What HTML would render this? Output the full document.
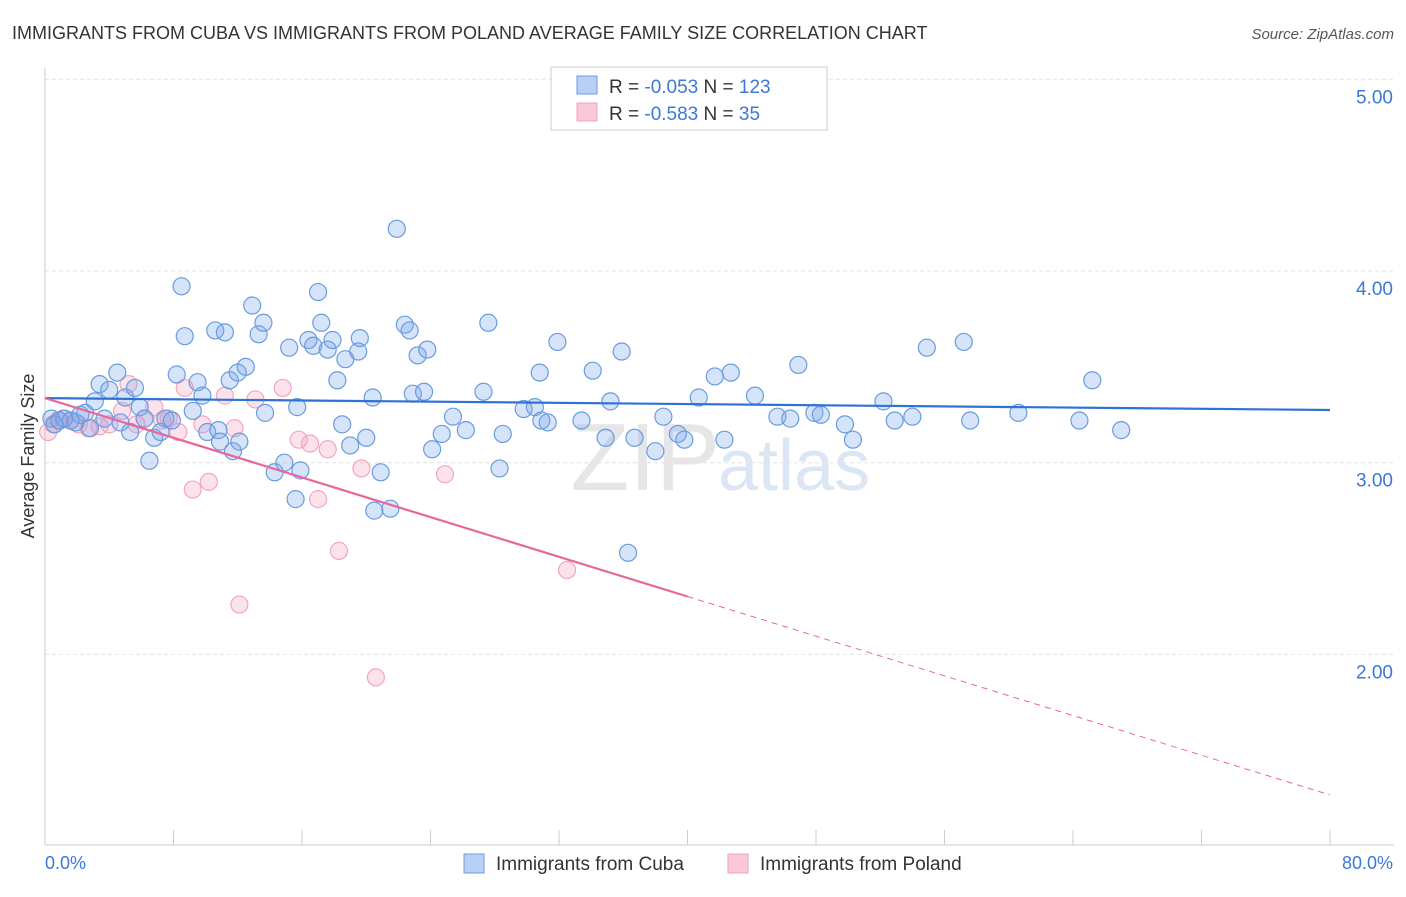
<!DOCTYPE html>
<html><head><meta charset="utf-8"><style>
body{margin:0;background:#fff;font-family:"Liberation Sans",sans-serif;}
svg text{font-family:"Liberation Sans",sans-serif;}
</style></head><body>
<svg id="chart" width="1406" height="892" viewBox="0 0 1406 892">
<text x="12" y="39" font-size="18" fill="#333">IMMIGRANTS FROM CUBA VS IMMIGRANTS FROM POLAND AVERAGE FAMILY SIZE CORRELATION CHART</text>
<text x="1394" y="39" font-size="15" fill="#555" text-anchor="end" font-style="italic">Source: ZipAtlas.com</text>
<text x="720" y="490" font-size="96" fill="#e6e6e6" text-anchor="end" font-family="Liberation Serif">ZIP</text>
<text x="718" y="490" font-size="72" fill="#dbe6f5">atlas</text>
<g id="grid"></g>
<g id="axes"></g>
<g id="pts"></g>
<g id="trend"></g>
<text transform="translate(34,456) rotate(-90)" font-size="18" fill="#333" text-anchor="middle">Average Family Size</text>
<text x="45" y="869" font-size="18" fill="#3b78d8">0.0%</text>
<text x="1393" y="869" font-size="18" fill="#3b78d8" text-anchor="end">80.0%</text>
<g>
<rect x="551" y="67" width="276" height="63" fill="#fff" stroke="#ccc"/>
<rect x="577" y="76" width="20" height="18" fill="#b8d0f4" stroke="#6a9be0"/>
<rect x="577" y="103" width="20" height="18" fill="#f9c9d8" stroke="#f0a0bc"/>
<text x="609" y="93" font-size="19" fill="#333">R = <tspan fill="#3b78d8">-0.053</tspan>   N = <tspan fill="#3b78d8">123</tspan></text>
<text x="609" y="120" font-size="19" fill="#333">R = <tspan fill="#3b78d8">-0.583</tspan>   N = <tspan fill="#3b78d8">  35</tspan></text>
</g>
<g>
<rect x="464" y="854" width="20" height="19" fill="#b8d0f4" stroke="#6a9be0"/>
<text x="496" y="870" font-size="19" fill="#333">Immigrants from Cuba</text>
<rect x="728" y="854" width="20" height="19" fill="#f9c9d8" stroke="#f0a0bc"/>
<text x="760" y="870" font-size="19" fill="#333">Immigrants from Poland</text>
</g>
</svg>
<script>
const yTicks=[2,3,4,5];
const yTickLabels=["2.00","3.00","4.00","5.00"];
const cubaX=[0.4,0.6,0.9,1.2,1.6,1.9,2.2,2.5,2.8,3.1,3.4,3.7,4.0,4.5,4.7,5.0,5.3,5.6,5.9,6.2,6.5,6.8,7.2,7.5,7.9,8.2,8.5,8.7,9.2,9.5,9.8,10.1,10.6,10.8,10.9,11.2,11.5,11.7,12.0,12.1,12.5,12.9,13.3,13.6,13.7,14.3,14.9,15.2,15.6,15.7,15.9,16.4,16.7,17.0,17.2,17.6,17.9,18.2,18.5,18.7,19.0,19.5,19.6,20.0,20.4,20.5,20.9,21.5,21.9,22.4,22.7,22.9,23.2,23.6,23.8,24.1,24.7,25.4,26.2,27.3,27.6,28.3,28.5,29.8,30.5,30.8,30.9,31.3,31.9,33.4,34.1,34.9,35.2,35.9,36.3,36.7,38.0,38.5,39.4,39.8,40.7,41.7,42.3,42.7,44.2,45.6,46.4,46.9,47.9,48.3,49.8,50.3,52.2,52.9,54.0,54.9,57.2,57.6,60.6,64.4,65.2,67.0];
const cubaY=[3.23,3.20,3.22,3.23,3.22,3.21,3.25,3.26,3.18,3.32,3.41,3.23,3.38,3.47,3.21,3.34,3.16,3.39,3.29,3.23,3.01,3.13,3.16,3.23,3.22,3.46,3.92,3.66,3.27,3.42,3.35,3.16,3.69,3.17,3.11,3.68,3.43,3.06,3.47,3.11,3.50,3.82,3.67,3.73,3.26,2.95,3.00,3.60,2.81,3.29,2.96,3.64,3.61,3.89,3.73,3.59,3.64,3.43,3.20,3.54,3.09,3.58,3.65,3.13,3.34,2.75,2.95,2.76,4.22,3.72,3.69,3.36,3.56,3.37,3.59,3.07,3.15,3.24,3.17,3.37,3.73,2.97,3.15,3.28,3.29,3.47,3.22,3.21,3.63,3.22,3.48,3.13,3.32,3.58,2.53,3.13,3.06,3.24,3.15,3.12,3.34,3.45,3.12,3.47,3.35,3.24,3.23,3.51,3.26,3.25,3.20,3.12,3.32,3.22,3.24,3.60,3.63,3.22,3.26,3.22,3.43,3.17];
const polandX=[0.2,0.5,0.8,1.1,1.6,2.1,2.7,3.4,4.0,4.8,5.2,5.7,6.2,6.8,7.3,7.7,8.3,8.7,9.2,9.8,10.2,11.2,11.8,12.1,13.1,14.8,15.8,16.5,17.0,17.6,18.3,19.7,20.6,24.9,32.5];
const polandY=[3.16,3.20,3.22,3.23,3.22,3.20,3.18,3.19,3.20,3.27,3.41,3.20,3.23,3.29,3.22,3.23,3.16,3.39,2.86,3.20,2.90,3.35,3.18,2.26,3.33,3.39,3.12,3.10,2.81,3.07,2.54,2.97,1.88,2.94,2.44];
const cubaTrend=[3.337,3.275];
const polandTrend=[3.337,1.267];
const polandSolidEnd=40;

const NS="http://www.w3.org/2000/svg";
const X0=45,X1=1330;
const sx=p=>X0+(p/80)*(X1-X0);
const sy=v=>271-(v-4)*191.7;
function mk(tag,attrs,parent){const e=document.createElementNS(NS,tag);for(const k in attrs)e.setAttribute(k,attrs[k]);parent.appendChild(e);return e;}
const grid=document.getElementById('grid'),axes=document.getElementById('axes'),pts=document.getElementById('pts'),trend=document.getElementById('trend');
yTicks.forEach((t,i)=>{
  const l=mk('line',{x1:45,x2:1394,y1:sy(t),y2:sy(t),stroke:'#e3e3e3','stroke-dasharray':'4,3'},grid);
  
  
  const tx=mk('text',{x:1393,y:sy(t)+24,'font-size':19,fill:'#3b78d8','text-anchor':'end'},grid);
  tx.textContent=yTickLabels[i];
  
  
});
const ya=mk('line',{x1:45,x2:45,y1:68,y2:845,stroke:'#ccc'},axes);


const xa=mk('line',{x1:45,x2:1394,y1:845,y2:845,stroke:'#ccc'},axes);


for(let p=8;p<=80;p+=8){
  const tk=mk('line',{x1:sx(p),x2:sx(p),y1:830,y2:845,stroke:'#ccc'},axes);
  
  
}
polandX.forEach((x,i)=>{
  const c=mk('circle',{cx:sx(x),cy:sy(polandY[i]),r:8.5,fill:'rgba(244,160,190,0.3)',stroke:'#f2a6c0','stroke-width':1.2},pts);
  
  
});
cubaX.forEach((x,i)=>{
  const c=mk('circle',{cx:sx(x),cy:sy(cubaY[i]),r:8.5,fill:'rgba(120,165,235,0.3)',stroke:'#6a9be0','stroke-width':1.2},pts);
  
  
});
const bl=mk('line',{x1:sx(0),y1:sy(cubaTrend[0]),x2:sx(80),y2:sy(cubaTrend[1]),stroke:'#2f72d6','stroke-width':2.2},trend);


const pv=p=>polandTrend[0]+(polandTrend[1]-polandTrend[0])*p/80;
const ps=mk('line',{x1:sx(0),y1:sy(pv(0)),x2:sx(polandSolidEnd),y2:sy(pv(polandSolidEnd)),stroke:'#e8679a','stroke-width':2.2},trend);


const pd=mk('line',{x1:sx(polandSolidEnd),y1:sy(pv(polandSolidEnd)),x2:sx(80),y2:sy(pv(80)),stroke:'#e8679a','stroke-width':1,'stroke-dasharray':'6,5'},trend);


</script>
</body></html>
